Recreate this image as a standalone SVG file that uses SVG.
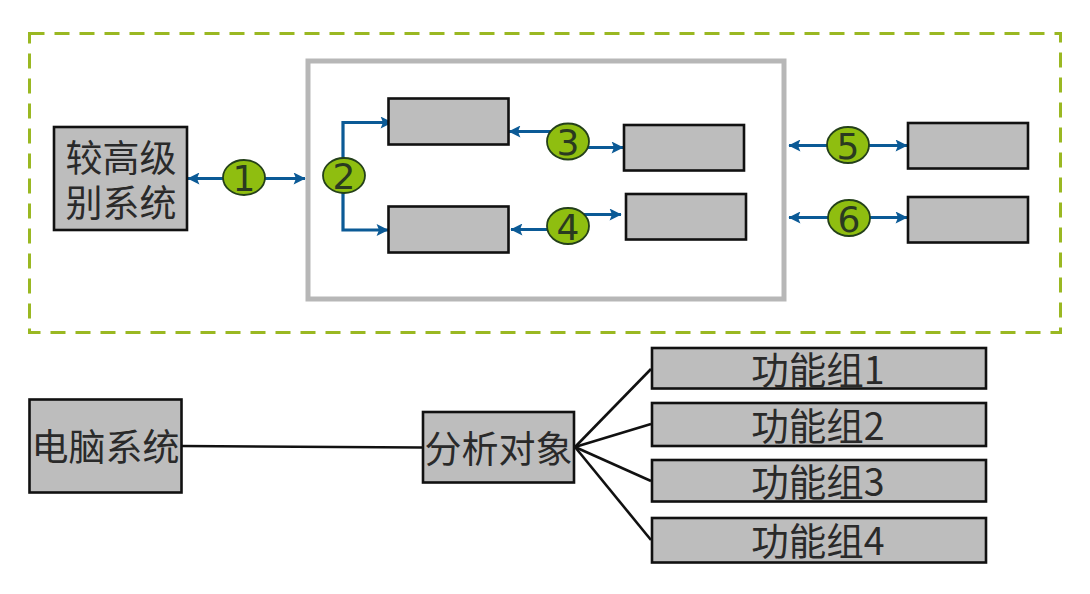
<svg xmlns="http://www.w3.org/2000/svg" width="1090" height="594" viewBox="0 0 1090 594">
<style>
.box{fill:#bdbdbd;stroke:#111;stroke-width:2.6}
.cjk{font-family:"Noto Sans CJK SC","Liberation Sans",sans-serif;font-size:37px;fill:#2a2a2a;text-anchor:middle}
.fg{font-family:"Noto Sans CJK SC","Liberation Sans",sans-serif;font-size:37.500px;fill:#2a2a2a;text-anchor:middle}
.blue{fill:none;stroke:#0b5a96;stroke-width:3.200}
.blk{fill:none;stroke:#111;stroke-width:2.600}
.num{fill:#8fbe10;stroke:#24401a;stroke-width:1.800}
.n{font-family:"DejaVu Sans","Liberation Sans",sans-serif;font-size:36px;fill:#2a3a20;text-anchor:middle}
</style>
<defs>
<marker id="a" viewBox="0 0 10 10" refX="9.5" refY="5" markerWidth="14" markerHeight="12" markerUnits="userSpaceOnUse" orient="auto-start-reverse"><path d="M0 0L10 5L0 10L2 5Z" fill="#0b5a96"/></marker>
</defs>
<rect width="1090" height="594" fill="#fff"/>
<rect id="outer" x="29.500" y="33.500" width="1031" height="299" fill="none" stroke="#9ab822" stroke-width="3" stroke-dasharray="15 10"/>
<rect id="frame" x="308" y="61" width="476" height="238" fill="none" stroke="#b7b7b7" stroke-width="5"/>
<g id="connectors">
<path class="blue" marker-start="url(#a)" marker-end="url(#a)" d="M188 178.500H305"/>
<path class="blue" marker-end="url(#a)" d="M343 176V122.500H392"/>
<path class="blue" marker-end="url(#a)" d="M343 176V230H388"/>
<path class="blue" marker-start="url(#a)" d="M509 131.500H568"/>
<path class="blue" marker-end="url(#a)" d="M568 147.500H623"/>
<path class="blue" marker-start="url(#a)" d="M511 229.500H568"/>
<path class="blue" marker-end="url(#a)" d="M568 214.500H621"/>
<path class="blue" marker-start="url(#a)" marker-end="url(#a)" d="M789 145.500H907"/>
<path class="blue" marker-start="url(#a)" marker-end="url(#a)" d="M789 217.500H907"/>
<path class="blk" d="M182 446L422 447.500"/>
<path class="blk" d="M575 447L651 369"/>
<path class="blk" d="M575 447L651 424"/>
<path class="blk" d="M575 447L651 481"/>
<path class="blk" d="M575 447L651 540"/>
</g>
<g id="n-higher"><rect class="box" x="54" y="127" width="133" height="103"/><text class="cjk"><tspan x="121" y="172">较高级</tspan><tspan x="121" y="217">别系统</tspan></text></g>
<g id="n-b1"><rect class="box" x="388.500" y="98.500" width="120" height="46"/></g>
<g id="n-b2"><rect class="box" x="388.500" y="206.500" width="120" height="46"/></g>
<g id="n-b3"><rect class="box" x="624" y="125" width="120" height="45.500"/></g>
<g id="n-b4"><rect class="box" x="626" y="194" width="120" height="45.500"/></g>
<g id="n-b5"><rect class="box" x="908" y="123" width="120" height="45.500"/></g>
<g id="n-b6"><rect class="box" x="908" y="197" width="120" height="45.500"/></g>
<g id="c1"><ellipse class="num" cx="244" cy="177.500" rx="21" ry="17.500"/><text class="n" x="244" y="191">1</text></g>
<g id="c2"><ellipse class="num" cx="344" cy="175.500" rx="21" ry="17.500"/><text class="n" x="344" y="189">2</text></g>
<g id="c3"><ellipse class="num" cx="568" cy="141.500" rx="21" ry="18"/><text class="n" x="568" y="155">3</text></g>
<g id="c4"><ellipse class="num" cx="568" cy="226" rx="21" ry="18"/><text class="n" x="568" y="240">4</text></g>
<g id="c5"><ellipse class="num" cx="848" cy="145" rx="21" ry="18"/><text class="n" x="848" y="159">5</text></g>
<g id="c6"><ellipse class="num" cx="849" cy="218" rx="21" ry="18"/><text class="n" x="849" y="232">6</text></g>
<g id="n-pc"><rect class="box" x="29.500" y="399.500" width="152" height="93"/><text class="cjk" x="105.500" y="461">电脑系统</text></g>
<g id="n-obj"><rect class="box" x="423" y="412" width="151" height="70.500"/><text class="cjk" x="498.500" y="463">分析对象</text></g>
<g id="n-f1"><rect class="box" x="652" y="348" width="334" height="40.500"/><text class="fg" x="818" y="384">功能组1</text></g>
<g id="n-f2"><rect class="box" x="652" y="403" width="334" height="43"/><text class="fg" x="818" y="440">功能组2</text></g>
<g id="n-f3"><rect class="box" x="652" y="460" width="334" height="41.500"/><text class="fg" x="818" y="496">功能组3</text></g>
<g id="n-f4"><rect class="box" x="652" y="518" width="334" height="44.500"/><text class="fg" x="818" y="555">功能组4</text></g>
</svg>
